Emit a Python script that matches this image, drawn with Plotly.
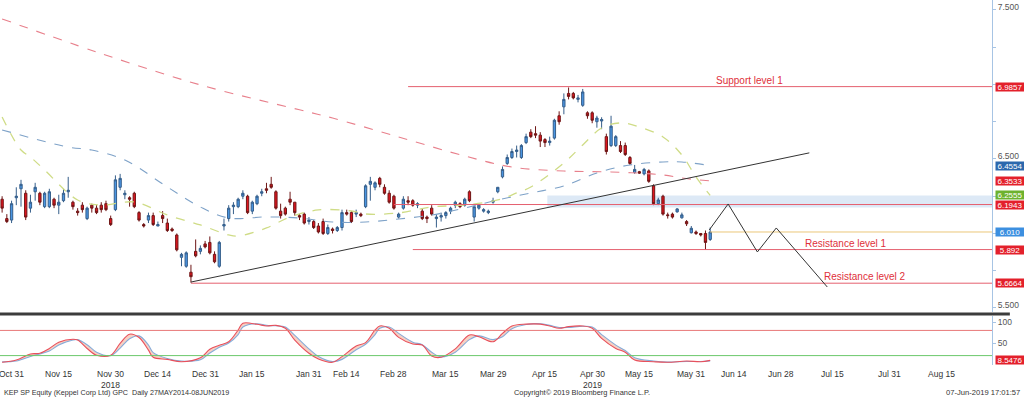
import pandas as pd
import plotly.graph_objects as go

# ---------------- trading calendar (SGX) ----------------
holidays = ['2018-11-06', '2018-12-25', '2019-01-01', '2019-02-05', '2019-02-06',
            '2019-04-19', '2019-05-01', '2019-05-20', '2019-06-05']
cal = [d.strftime('%Y-%m-%d') for d in pd.bdate_range('2018-10-29', '2019-09-06')
       if d.strftime('%Y-%m-%d') not in holidays]
pos = {d: i for i, d in enumerate(cal)}

# ---------------- daily candles ----------------
opens = [6.23, 6.10, 6.09, 6.24, 6.30, 6.27, 6.17, 6.28, 6.27, 6.18,
         6.18, 6.23, 6.19, 6.22, 6.28, 6.21, 6.15, 6.19, 6.10, 6.19,
         6.17, 6.19, 6.20, 6.10, 6.16, 6.31, 6.26, 6.24, 6.27, 6.14,
         6.06, 6.09, 6.12, 6.05, 6.12, 6.07, 6.03, 5.99, 5.84, 5.78,
         5.74, 5.88, 5.88, 5.93, 5.94, 5.86, 5.78, 6.05, 6.10, 6.18,
         6.18, 6.25, 6.25, 6.15, 6.20, 6.27, 6.30, 6.33, 6.28, 6.15,
         6.17, 6.23, 6.21, 6.12, 6.13, 6.08, 6.08, 6.05, 6.08, 6.00,
         6.03, 6.02, 6.04, 6.14, 6.14, 6.13, 6.13, 6.18, 6.33, 6.31,
         6.37, 6.31, 6.27, 6.25, 6.11, 6.17, 6.22, 6.22, 6.19, 6.15,
         6.11, 6.17, 6.10, 6.11, 6.12, 6.15, 6.19, 6.20, 6.19, 6.28,
         6.11, 6.17, 6.15, 6.14, 6.21, 6.28, 6.38, 6.47, 6.51, 6.55,
         6.51, 6.61, 6.68, 6.67, 6.66, 6.63, 6.61, 6.64, 6.79, 6.85,
         6.94, 6.94, 6.90, 6.86, 6.81, 6.81, 6.75, 6.755, 6.65, 6.59,
         6.59, 6.59, 6.59, 6.51, 6.41, 6.415, 6.40, 6.42, 6.32, 6.20,
         6.25, 6.125, 6.13, 6.145, 6.105, 6.08, 6.005, 6.01, 6.00, 6.00,
         5.96]
highs = [6.25, 6.13, 6.22, 6.31, 6.36, 6.29, 6.26, 6.34, 6.28, 6.28,
         6.30, 6.24, 6.26, 6.30, 6.38, 6.22, 6.17, 6.21, 6.18, 6.20,
         6.19, 6.21, 6.22, 6.12, 6.39, 6.40, 6.29, 6.25, 6.28, 6.15,
         6.07, 6.14, 6.14, 6.08, 6.15, 6.10, 6.04, 6.00, 5.87, 5.88,
         5.79, 5.96, 5.92, 5.95, 5.98, 5.88, 5.95, 6.10, 6.19, 6.21,
         6.24, 6.29, 6.26, 6.22, 6.26, 6.30, 6.34, 6.38, 6.29, 6.20,
         6.18, 6.28, 6.21, 6.13, 6.14, 6.11, 6.09, 6.07, 6.10, 6.06,
         6.04, 6.05, 6.16, 6.16, 6.15, 6.16, 6.14, 6.33, 6.38, 6.35,
         6.38, 6.33, 6.29, 6.26, 6.14, 6.25, 6.25, 6.23, 6.21, 6.17,
         6.12, 6.19, 6.13, 6.14, 6.15, 6.18, 6.22, 6.21, 6.24, 6.29,
         6.18, 6.20, 6.17, 6.16, 6.24, 6.31, 6.45, 6.53, 6.57, 6.59,
         6.60, 6.67, 6.70, 6.72, 6.68, 6.64, 6.65, 6.77, 6.82, 6.94,
         6.98, 6.95, 6.93, 6.97, 6.82, 6.82, 6.79, 6.78, 6.67, 6.79,
         6.66, 6.62, 6.61, 6.52, 6.46, 6.42, 6.44, 6.43, 6.33, 6.24,
         6.26, 6.14, 6.14, 6.17, 6.14, 6.09, 6.05, 6.02, 6.00, 6.02,
         6.04]
lows = [6.14, 6.07, 6.07, 6.19, 6.18, 6.09, 6.14, 6.22, 6.19, 6.17,
        6.17, 6.17, 6.13, 6.21, 6.24, 6.16, 6.12, 6.14, 6.09, 6.14,
        6.13, 6.14, 6.15, 6.05, 6.15, 6.29, 6.23, 6.18, 6.17, 6.08,
        6.04, 6.07, 6.05, 6.05, 6.07, 6.01, 6.01, 5.88, 5.78, 5.77,
        5.67, 5.84, 5.86, 5.90, 5.86, 5.80, 5.77, 6.02, 6.08, 6.13,
        6.17, 6.23, 6.13, 6.13, 6.19, 6.25, 6.27, 6.30, 6.16, 6.10,
        6.12, 6.19, 6.12, 6.09, 6.06, 6.06, 6.03, 6.00, 5.99, 5.99,
        6.00, 6.01, 6.02, 6.12, 6.07, 6.11, 6.11, 6.17, 6.22, 6.29,
        6.31, 6.26, 6.20, 6.16, 6.10, 6.16, 6.19, 6.18, 6.17, 6.09,
        6.07, 6.12, 6.04, 6.08, 6.10, 6.13, 6.17, 6.17, 6.18, 6.21,
        6.08, 6.16, 6.14, 6.13, 6.20, 6.27, 6.37, 6.46, 6.50, 6.51,
        6.50, 6.60, 6.64, 6.64, 6.58, 6.58, 6.59, 6.63, 6.73, 6.80,
        6.90, 6.90, 6.88, 6.85, 6.77, 6.74, 6.71, 6.70, 6.53, 6.58,
        6.58, 6.54, 6.52, 6.46, 6.40, 6.40, 6.39, 6.34, 6.19, 6.19,
        6.12, 6.10, 6.10, 6.14, 6.10, 6.05, 6.00, 5.99, 5.98, 5.89,
        5.95]
closes = [6.17, 6.08, 6.20, 6.25, 6.33, 6.11, 6.21, 6.31, 6.21, 6.27,
          6.28, 6.19, 6.21, 6.27, 6.29, 6.18, 6.14, 6.16, 6.17, 6.17,
          6.14, 6.16, 6.16, 6.06, 6.36, 6.37, 6.27, 6.23, 6.18, 6.09,
          6.05, 6.12, 6.06, 6.06, 6.10, 6.02, 6.02, 5.89, 5.86, 5.87,
          5.71, 5.85, 5.90, 5.91, 5.87, 5.81, 5.94, 6.06, 6.17, 6.19,
          6.23, 6.27, 6.14, 6.21, 6.25, 6.28, 6.29, 6.31, 6.17, 6.12,
          6.13, 6.21, 6.14, 6.11, 6.07, 6.09, 6.04, 6.01, 6.00, 6.04,
          6.02, 6.04, 6.14, 6.13, 6.08, 6.14, 6.12, 6.32, 6.35, 6.34,
          6.33, 6.27, 6.21, 6.17, 6.13, 6.23, 6.21, 6.19, 6.20, 6.10,
          6.10, 6.13, 6.11, 6.12, 6.14, 6.17, 6.21, 6.18, 6.23, 6.22,
          6.18, 6.19, 6.16, 6.15, 6.22, 6.31, 6.43, 6.51, 6.55, 6.56,
          6.59, 6.65, 6.65, 6.66, 6.62, 6.61, 6.62, 6.76, 6.75, 6.90,
          6.92, 6.91, 6.91, 6.95, 6.79, 6.76, 6.775, 6.765, 6.55, 6.72,
          6.65, 6.55, 6.53, 6.47, 6.43, 6.405, 6.43, 6.35, 6.20, 6.225,
          6.13, 6.12, 6.11, 6.165, 6.125, 6.065, 6.035, 6.00, 5.99, 5.94,
          6.01]
candle_dates = cal[:len(opens)]
candle_x = [pos[d] for d in candle_dates]

# ---------------- moving averages ----------------
ma_long_idx = [0, 20, 42, 63, 70, 84, 98, 108, 119, 129, 140, 144, 150]
ma_long_val = [7.44, 7.218, 6.997, 6.83, 6.775, 6.648, 6.52, 6.446, 6.419, 6.413, 6.393, 6.372, 6.3533]
ma_mid_idx = [0, 14, 19, 26, 35, 42, 48, 56, 63, 70, 77, 84, 91, 98, 105, 112, 119, 126, 133, 140, 144, 150]
ma_mid_val = [6.695, 6.58, 6.56, 6.493, 6.312, 6.178, 6.104, 6.111, 6.104, 6.077, 6.077, 6.097,
              6.124, 6.171, 6.225, 6.272, 6.319, 6.406, 6.46, 6.48, 6.48, 6.4554]
ma_short_idx = [0, 4, 6, 9, 16, 21, 28, 35, 42, 48, 50, 56, 61, 67, 74, 77, 84, 91, 98, 105,
                109, 112, 119, 123, 127, 131, 135, 140, 144, 147, 150]
ma_short_val = [6.782, 6.56, 6.513, 6.426, 6.225, 6.191, 6.211, 6.124, 6.057, 5.99, 5.983, 6.037,
                6.111, 6.158, 6.151, 6.131, 6.138, 6.178, 6.191, 6.225, 6.272, 6.312, 6.473, 6.594,
                6.708, 6.742, 6.715, 6.648, 6.527, 6.379, 6.2555]

# ---------------- slow stochastic ----------------
stoch_idx = [0, 3, 6, 8, 10, 12, 15, 16, 18, 20, 23, 25, 27, 29, 31, 32, 35, 38, 42, 44,
             46, 48, 50, 51, 54, 56, 58, 60, 62, 65, 67, 70, 72, 75, 77, 79, 80, 82, 84, 87,
             89, 91, 93, 96, 99, 101, 104, 106, 108, 111, 114, 116, 118, 120, 123, 125, 127, 130, 132, 134,
             138, 141, 145, 148, 150]
stoch_k = [4, 9.5, 24, 25.5, 37, 52, 59, 57, 37, 21, 21, 49, 71, 63, 33, 16, 11, 5.5, 15, 35,
           44.5, 53, 81, 97, 94.5, 90.5, 92, 85, 57, 25.5, 12, 4, 17.5, 43, 51, 81, 90.5, 85, 63.5, 47.6,
           45, 19, 16, 36, 69, 65, 53, 73, 90.5, 95, 95, 90.5, 85, 89, 90.5, 85, 61, 37, 28, 9.5,
           5.5, 4, 7, 5.5, 8.5476]
stoch_d = [5, 7, 18, 24, 31, 45, 57, 58, 46, 28, 20, 38, 60, 67, 45, 27, 13, 7, 10, 26,
           40, 50, 70, 88, 96, 92, 91, 88, 68, 36, 18, 6, 11, 34, 47, 70, 85, 88, 73, 52,
           46, 28, 17, 28, 58, 67, 58, 65, 84, 94, 96, 92, 87, 87, 90, 88, 70, 45, 32, 15,
           7, 4.5, 6, 6, 7.5]

# ---------------- drawn levels / annotations ----------------
support_1 = 6.9857
resist_1 = 5.892
resist_2 = 5.6664
mid_level = 6.1943
last_px = 6.010
band_lo, band_hi = 6.175, 6.255
support_start = '2019-03-05'
mid_start = '2019-02-28'
resist1_start = '2019-03-06'
resist2_start = '2018-12-26'
band_start = '2019-04-16'
trend_dates = ['2018-12-26', '2019-07-08']
trend_vals = [5.674, 6.541]
proj_idx = [149.8, 153.8, 160.0, 164.0, 174.8]
proj_vals = [6.0235, 6.198, 5.876, 6.037, 5.641]

tick_dates = ['2018-10-31', '2018-11-15', '2018-11-30', '2018-12-14', '2018-12-31', '2019-01-15',
              '2019-01-31', '2019-02-14', '2019-02-28', '2019-03-15', '2019-03-29', '2019-04-15',
              '2019-04-30', '2019-05-15', '2019-05-31', '2019-06-14', '2019-06-28', '2019-07-15',
              '2019-07-31', '2019-08-15']
tick_text = ['Oct 31', 'Nov 15', 'Nov 30<br>2018', 'Dec 14', 'Dec 31', 'Jan 15', 'Jan 31', 'Feb 14',
             'Feb 28', 'Mar 15', 'Mar 29', 'Apr 15', 'Apr 30<br>2019', 'May 15', 'May 31', 'Jun 14',
             'Jun 28', 'Jul 15', 'Jul 31', 'Aug 15']
tick_x = [pos[d] for d in tick_dates]

tags = [(6.9857, '6.9857', '#e3202b'), (6.4554, '6.4554', '#2c68ad'), (6.3533, '6.3533', '#e3202b'),
        (6.2555, '6.2555', '#6db22e'), (6.1943, '6.1943', '#e3202b'), (6.010, '6.010', '#3c8fe0'),
        (5.892, '5.892', '#e3202b'), (5.6664, '5.6664', '#e3202b')]

X_RANGE = [-0.45, 209.7]
RED_LINE = '#e5606f'
TXT_RED = '#e0303a'
FONT = 'Liberation Sans, Arial, sans-serif'
NARROW = 'Liberation Sans Narrow, Liberation Sans, Arial, sans-serif'

fig = go.Figure()

# band
fig.add_shape(type='rect', xref='x', yref='y', x0=pos[band_start] - 0.5, x1=X_RANGE[1],
              y0=band_lo, y1=band_hi, fillcolor='#dde9f6', line_width=0, layer='below')

# moving averages
fig.add_trace(go.Scatter(x=ma_long_idx, y=ma_long_val, mode='lines', line=dict(color='#e8808c', width=1.1, dash='dash', shape='spline'), xaxis='x', yaxis='y', hoverinfo='skip'))
fig.add_trace(go.Scatter(x=ma_mid_idx, y=ma_mid_val, mode='lines', line=dict(color='#7ea2c8', width=1.1, dash='dash', shape='spline'), xaxis='x', yaxis='y', hoverinfo='skip'))
fig.add_trace(go.Scatter(x=ma_short_idx, y=ma_short_val, mode='lines', line=dict(color='#cfdc86', width=1.3, dash='dash', shape='spline'), xaxis='x', yaxis='y', hoverinfo='skip'))

# horizontal levels
def hline(start_idx, level, color, width=1.0):
    fig.add_trace(go.Scatter(x=[start_idx, X_RANGE[1]], y=[level, level], mode='lines',
                             line=dict(color=color, width=width), xaxis='x', yaxis='y', hoverinfo='skip'))

hline(pos[support_start], support_1, RED_LINE)
hline(pos[mid_start], mid_level, RED_LINE)
hline(pos[resist1_start], resist_1, RED_LINE)
hline(pos[resist2_start], resist_2, RED_LINE)
hline(candle_x[-1], last_px, '#ebc77a')

# trend line and projection
fig.add_trace(go.Scatter(x=[pos[d] for d in trend_dates], y=trend_vals, mode='lines',
                         line=dict(color='#333333', width=1), xaxis='x', yaxis='y', hoverinfo='skip'))
fig.add_trace(go.Scatter(x=proj_idx, y=proj_vals, mode='lines',
                         line=dict(color='#333333', width=1), xaxis='x', yaxis='y', hoverinfo='skip'))

# candles
fig.add_trace(go.Candlestick(
    x=candle_x, open=opens, high=highs, low=lows, close=closes,
    increasing=dict(fillcolor='#4a95e2', line=dict(color='#355e8a', width=1)),
    decreasing=dict(fillcolor='#e0141e', line=dict(color='#6e1616', width=1)),
    whiskerwidth=0, xaxis='x', yaxis='y', text=candle_dates, hoverinfo='text+y'))

# stochastic
fig.add_trace(go.Scatter(x=stoch_idx, y=stoch_d, mode='lines', line=dict(color='#86acd9', width=1.1, shape='spline'),
                         xaxis='x2', yaxis='y2', hoverinfo='skip'))
fig.add_trace(go.Scatter(x=stoch_idx, y=stoch_k, mode='lines', line=dict(color='#e8505c', width=1.1, shape='spline'),
                         fill='tonexty', fillcolor='rgba(240,150,120,0.45)', xaxis='x2', yaxis='y2', hoverinfo='skip'))
for lvl, col in [(80, '#e87878'), (20, '#6cc86c')]:
    fig.add_trace(go.Scatter(x=X_RANGE, y=[lvl, lvl], mode='lines', line=dict(color=col, width=1),
                             xaxis='x2', yaxis='y2', hoverinfo='skip'))

# text annotations
ann = []
ann.append(dict(x=158.4, y=7.03, xref='x', yref='y', text='Support level 1', showarrow=False,
                font=dict(family=FONT, size=10, color=TXT_RED)))
ann.append(dict(x=178.8, y=5.936, xref='x', yref='y', text='Resistance level 1', showarrow=False,
                font=dict(family=FONT, size=10, color=TXT_RED)))
ann.append(dict(x=182.7, y=5.708, xref='x', yref='y', text='Resistance level 2', showarrow=False,
                font=dict(family=FONT, size=10, color=TXT_RED)))
for val, txt, col in tags:
    ann.append(dict(x=1, xref='paper', y=val, yref='y', xanchor='left', xshift=3, text=txt,
                    showarrow=False, bgcolor=col, width=28, height=8, borderpad=0,
                    font=dict(family=NARROW, size=8, color='white')))
ann.append(dict(x=1, xref='paper', y=stoch_k[-1], yref='y2', xanchor='left', xshift=3, text='8.5476',
                showarrow=False, bgcolor='#e3202b', width=28, height=8, borderpad=0,
                font=dict(family=NARROW, size=8, color='white')))
# date labels under the lower panel
for tx, tt in zip(tick_x, tick_text):
    ann.append(dict(x=tx, xref='x2', y=-0.006, yref='paper', xanchor='center', yanchor='top',
                    text=tt, showarrow=False, font=dict(family=NARROW, size=8.5, color='#333')))
ann.append(dict(x=0.002, y=-0.074, xref='paper', yref='paper', xanchor='left', yanchor='middle', showarrow=False,
                text='KEP SP Equity (Keppel Corp Ltd) GPC  Daily 27MAY2014-08JUN2019',
                font=dict(family=NARROW, size=7.2, color='#333')))
ann.append(dict(x=0.587, y=-0.074, xref='paper', yref='paper', xanchor='center', yanchor='middle', showarrow=False,
                text='Copyright\u00a9 2019 Bloomberg Finance L.P.', font=dict(family=NARROW, size=7.4, color='#333')))
ann.append(dict(x=1.030, y=-0.074, xref='paper', yref='paper', xanchor='right', yanchor='middle', showarrow=False,
                text='07-Jun-2019 17:01:57', font=dict(family=NARROW, size=7.6, color='#333')))

# separator
shapes = [dict(type='line', xref='paper', yref='paper', x0=0, x1=1.018, y0=0.1397, y1=0.1397,
               line=dict(color='#3c3c3c', width=3))]

fig.update_layout(
    width=1024, height=397,
    margin=dict(l=0, r=32, t=0, b=32),
    paper_bgcolor='white', plot_bgcolor='white',
    showlegend=False,
    annotations=ann,
    xaxis=dict(domain=[0, 1], range=X_RANGE, showticklabels=False, showgrid=False, zeroline=False,
               rangeslider=dict(visible=False), anchor='y', matches='x2'),
    xaxis2=dict(domain=[0, 1], range=X_RANGE, showticklabels=False, showgrid=False,
                zeroline=False, anchor='y2', ticks=''),
    yaxis=dict(domain=[0.1452, 1], range=[5.473, 7.567], side='right', anchor='x', tick0=5.5, dtick=1,
               tickformat='.3f', showgrid=False, zeroline=False, showline=True, linecolor='#a7c4e4',
               ticks='outside', ticklen=3, tickcolor='#a7c4e4', ticklabelshift=-3,
               minor=dict(dtick=0.25, ticks='outside', ticklen=3, tickcolor='#a7c4e4'),
               tickfont=dict(family=NARROW, size=8.5, color='#555')),
    yaxis2=dict(domain=[0, 0.1342], range=[-2.4, 114.3], side='right', anchor='x2', tickvals=[50, 100],
                showgrid=False, zeroline=False, showline=True, linecolor='#a7c4e4', ticks='outside',
                ticklen=3, tickcolor='#a7c4e4', tickfont=dict(family=NARROW, size=8.5, color='#555')),
)
for s in shapes:
    fig.add_shape(**s)

fig.write_html('out.html', config={'displayModeBar': False},
               post_script="document.body.style.margin='0';document.body.style.overflow='hidden';")
